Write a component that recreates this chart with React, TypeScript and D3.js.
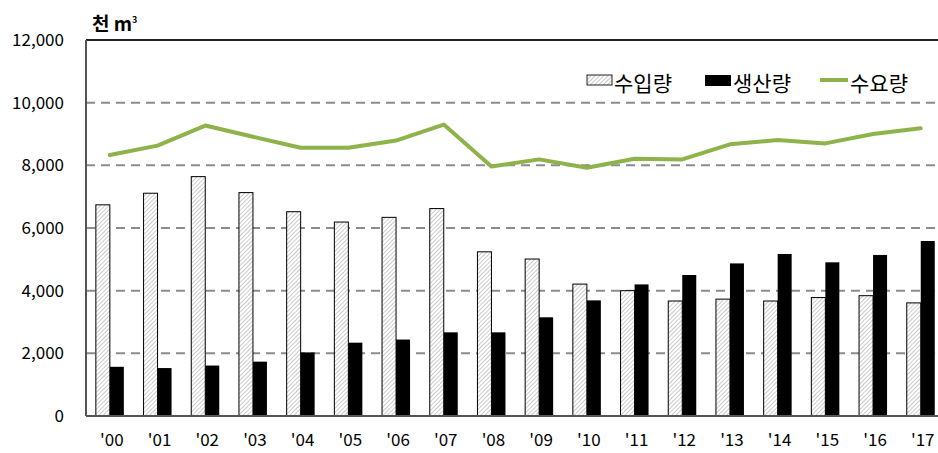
import React, { useRef, useEffect } from 'react';
import * as d3 from 'd3';

const years = ["'00", "'01", "'02", "'03", "'04", "'05", "'06", "'07", "'08", "'09", "'10", "'11", "'12", "'13", "'14", "'15", "'16", "'17"];
const imports = [6740, 7110, 7640, 7130, 6520, 6190, 6340, 6620, 5240, 5010, 4210, 4000, 3670, 3730, 3670, 3780, 3840, 3610];
const production = [1570, 1530, 1610, 1735, 2030, 2340, 2440, 2670, 2670, 3150, 3690, 4200, 4500, 4870, 5170, 4905, 5140, 5585];
const demand = [8330, 8630, 9270, 8910, 8560, 8560, 8790, 9300, 7960, 8190, 7925, 8210, 8190, 8670, 8810, 8700, 9000, 9180];
const yTicks = [0, 2000, 4000, 6000, 8000, 10000, 12000];

const FONT = '"Noto Sans CJK KR", "Noto Sans", sans-serif';

const App = () => {
  const ref = useRef<SVGSVGElement>(null);

  useEffect(() => {
    const width = 938;
    const height = 453;
    const left = 86, top = 40, bottom = 416, right = 944.6;

    const svg = d3.select(ref.current)
      .attr('width', width)
      .attr('height', height);
    svg.selectAll('*').remove();

    const defs = svg.append('defs');
    const pat = defs.append('pattern')
      .attr('id', 'hatch')
      .attr('patternUnits', 'userSpaceOnUse')
      .attr('width', 3)
      .attr('height', 3)
      .attr('patternTransform', 'rotate(45)');
    pat.append('rect').attr('width', 3).attr('height', 3).attr('fill', '#fff');
    pat.append('line')
      .attr('x1', 0).attr('y1', 0).attr('x2', 0).attr('y2', 3)
      .attr('stroke', '#a8a8a8').attr('stroke-width', 1.2);

    const x = d3.scaleBand().domain(years).range([left, right]);
    const y = d3.scaleLinear().domain([0, 12000]).range([bottom, top]);
    const barW = 14;
    const cx = (d: string) => (x(d) as number) + x.bandwidth() / 2;

    // grid
    svg.append('g')
      .selectAll('line')
      .data(yTicks.filter(t => t > 0 && t < 12000))
      .enter().append('line')
      .attr('x1', left).attr('x2', width)
      .attr('y1', d => y(d)).attr('y2', d => y(d))
      .attr('stroke', '#8c8c8c')
      .attr('stroke-width', 2)
      .attr('stroke-dasharray', '9,6');

    // y tick labels
    svg.append('g')
      .selectAll('text')
      .data(yTicks)
      .enter().append('text')
      .attr('x', 64)
      .attr('y', d => y(d) + 6)
      .attr('text-anchor', 'end')
      .attr('font-family', FONT)
      .attr('font-size', 17)
      .attr('fill', '#000')
      .text(d => d3.format(',')(d));

    // x labels
    svg.append('g')
      .selectAll('text')
      .data(years)
      .enter().append('text')
      .attr('x', d => cx(d) + 2)
      .attr('y', 446)
      .attr('text-anchor', 'middle')
      .attr('font-family', FONT)
      .attr('font-size', 17)
      .attr('fill', '#000')
      .text(d => d);

    // import bars
    svg.append('g')
      .selectAll('rect')
      .data(years)
      .enter().append('rect')
      .attr('x', d => cx(d) - barW)
      .attr('y', (d, i) => y(imports[i]))
      .attr('width', barW)
      .attr('height', (d, i) => bottom - y(imports[i]))
      .attr('fill', 'url(#hatch)')
      .attr('stroke', '#000')
      .attr('stroke-width', 1);

    // production bars
    svg.append('g')
      .selectAll('rect')
      .data(years)
      .enter().append('rect')
      .attr('x', d => cx(d))
      .attr('y', (d, i) => y(production[i]))
      .attr('width', barW)
      .attr('height', (d, i) => bottom - y(production[i]))
      .attr('fill', '#000');

    // demand line
    const line = d3.line<number>()
      .x((d, i) => cx(years[i]))
      .y(d => y(d));
    svg.append('path')
      .datum(demand)
      .attr('d', line)
      .attr('fill', 'none')
      .attr('stroke', '#8db34a')
      .attr('stroke-width', 4)
      .attr('stroke-linejoin', 'round')
      .attr('stroke-linecap', 'round');

    // frame
    svg.append('line')
      .attr('x1', left).attr('x2', width).attr('y1', top).attr('y2', top)
      .attr('stroke', '#222').attr('stroke-width', 2);
    svg.append('line')
      .attr('x1', left).attr('x2', width).attr('y1', bottom).attr('y2', bottom)
      .attr('stroke', '#555').attr('stroke-width', 2);
    svg.append('line')
      .attr('x1', left).attr('x2', left).attr('y1', top).attr('y2', bottom)
      .attr('stroke', '#555').attr('stroke-width', 2);

    // unit
    const unit = svg.append('text')
      .attr('x', 92).attr('y', 31)
      .attr('font-family', FONT)
      .attr('font-size', 19)
      .attr('font-weight', 'bold')
      .attr('fill', '#000');
    unit.append('tspan').text('천 m');
    unit.append('tspan').attr('font-size', 9).attr('dy', -8).text('3');

    // legend
    const lg = svg.append('g').attr('font-family', FONT).attr('font-size', 21);
    lg.append('rect').attr('x', 587).attr('y', 75).attr('width', 25).attr('height', 10)
      .attr('fill', 'url(#hatch)').attr('stroke', '#222').attr('stroke-width', 1);
    lg.append('text').attr('x', 614).attr('y', 91).text('수입량');
    lg.append('rect').attr('x', 705).attr('y', 75).attr('width', 26).attr('height', 11)
      .attr('fill', '#000');
    lg.append('text').attr('x', 733).attr('y', 91).text('생산량');
    lg.append('line').attr('x1', 820).attr('x2', 848).attr('y1', 80).attr('y2', 80)
      .attr('stroke', '#8db34a').attr('stroke-width', 4);
    lg.append('text').attr('x', 850).attr('y', 91).text('수요량');
  }, []);

  return <svg ref={ref} style={{ position: 'absolute', left: 0, top: 0 }}></svg>;
};

export default App;
